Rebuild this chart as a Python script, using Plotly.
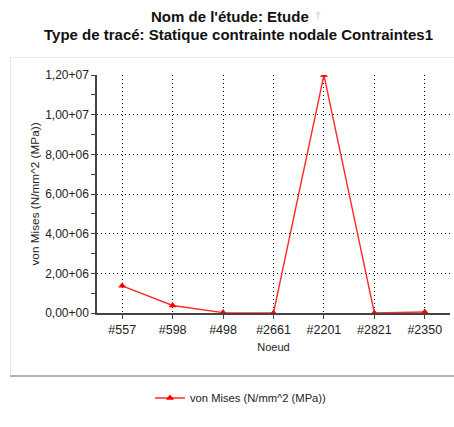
import plotly.graph_objects as go

# ---- data ----
nodes = ["#557", "#598", "#498", "#2661", "#2201", "#2821", "#2350"]
von_mises = [1.37e6, 0.38e6, 0.02e6, 0.0, 1.2e7, 0.0, 0.05e6]
y_tick_vals = [0, 2e6, 4e6, 6e6, 8e6, 1e7, 1.2e7]
y_tick_text = ["0,00+00", "2,00+06", "4,00+06", "6,00+06", "8,00+06", "1,00+07", "1,20+07"]
title_line1 = "Nom de l'étude: Etude"
title_line2 = "Type de tracé: Statique contrainte nodale Contraintes1"
series_name = "von Mises (N/mm^2 (MPa))"
x_title = "Noeud"
y_title = "von Mises (N/mm^2 (MPa))"

W, H = 454, 427
L, R, T, B = 97, 4, 75, 114
pw, ph = W - L - R, H - T - B

def px(x):
    return (x - L) / pw

def py(y):
    return (H - B - y) / ph

FONT = "Liberation Sans, Arial, sans-serif"

fig = go.Figure()
fig.add_trace(go.Scatter(
    x=nodes, y=von_mises, mode="lines+markers", name=series_name,
    line=dict(color="#ff2a2a", width=1.4),
    marker=dict(symbol="triangle-up", size=7, color="#ff0000"),
))

fig.update_layout(
    width=W, height=H,
    margin=dict(l=L, r=R, t=T, b=B, autoexpand=False),
    paper_bgcolor="white", plot_bgcolor="white",
    font=dict(family=FONT, size=12, color="#222222"),
    showlegend=True,
    legend=dict(
        x=px(150), y=py(398), xanchor="left", yanchor="middle",
        orientation="h", font=dict(size=11.2, color="#222222"),
        bgcolor="rgba(0,0,0,0)",
    ),
    xaxis=dict(
        type="category", range=[-0.5, 6.5], fixedrange=True,
        showgrid=True, gridcolor="#000000", gridwidth=1, griddash="1px,3px",
        showline=True, linecolor="#444444", linewidth=1.5,
        ticks="outside", ticklen=4, tickcolor="#444444",
        tickfont=dict(size=12.5, color="#222222"),
        title=dict(text=x_title, font=dict(size=11, color="#222222"), standoff=8),
        zeroline=False,
    ),
    yaxis=dict(
        range=[0, 1.2e7], fixedrange=True,
        tickvals=y_tick_vals, ticktext=y_tick_text,
        showgrid=True, gridcolor="#000000", gridwidth=1, griddash="1px,3px",
        showline=True, linecolor="#444444", linewidth=1.5,
        ticks="outside", ticklen=4, tickcolor="#444444",
        minor=dict(dtick=1e6, tick0=0, ticks="outside", ticklen=4, tickcolor="#444444", showgrid=False),
        tickfont=dict(size=12, color="#222222"),
        title=dict(text=y_title, font=dict(size=11.8, color="#222222"), standoff=3),
        zeroline=False,
    ),
    shapes=[
        dict(type="rect", xref="paper", yref="paper",
             x0=px(10.5), x1=px(470), y0=py(376), y1=py(57.5),
             line=dict(color="#e6e6e6", width=1), fillcolor="rgba(0,0,0,0)", layer="below"),
        dict(type="line", xref="paper", yref="paper",
             x0=px(10), x1=px(470), y0=py(376), y1=py(376),
             line=dict(color="#b4b4b4", width=2)),
    ],
    annotations=[
        dict(text="<b>" + title_line1 + "</b>", xref="paper", yref="paper",
             x=px(230), y=py(17), xanchor="center", yanchor="middle", showarrow=False,
             font=dict(size=15, color="#111111", family=FONT)),
        dict(text="†", xref="paper", yref="paper",
             x=px(313), y=py(15), xanchor="left", yanchor="middle", showarrow=False,
             font=dict(size=11, color="#c8d0dc", family=FONT)),
        dict(text="<b>" + title_line2 + "</b>", xref="paper", yref="paper",
             x=px(238), y=py(35), xanchor="center", yanchor="middle", showarrow=False,
             font=dict(size=15, color="#111111", family=FONT)),
    ],
)

fig.write_html("out.html", config={"displayModeBar": False},
               post_script="document.body.style.margin='0';")
